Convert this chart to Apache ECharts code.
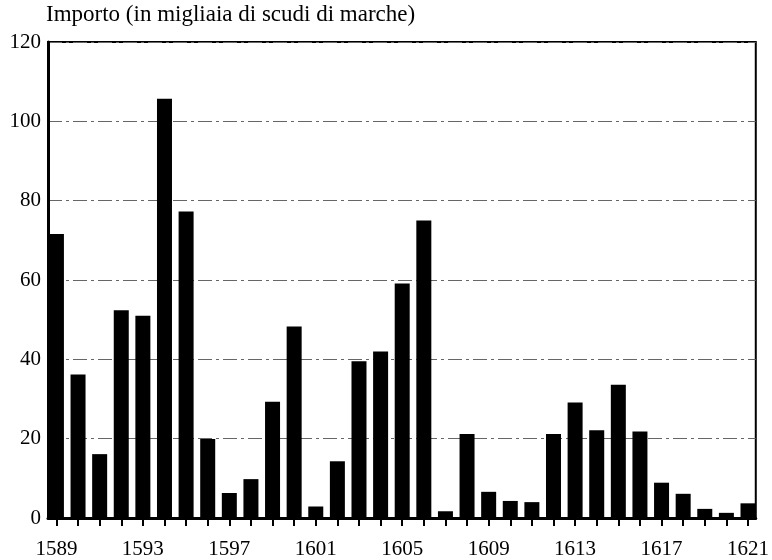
<!DOCTYPE html>
<html>
<head>
<meta charset="utf-8">
<script src="https://cdn.jsdelivr.net/npm/echarts@6/dist/echarts.min.js"></script>
<style>html,body{margin:0;padding:0;background:#fff}#c{width:772px;height:560px}</style>
</head>
<body>
<div id="c"></div>
<script>
const years = [1589,1590,1591,1592,1593,1594,1595,1596,1597,1598,1599,1600,1601,1602,1603,1604,1605,1606,1607,1608,1609,1610,1611,1612,1613,1614,1615,1616,1617,1618,1619,1620,1621];
const values = [71.6,36.2,16.1,52.4,51.0,105.7,77.3,19.9,6.3,9.8,29.3,48.3,2.9,14.3,39.5,42.0,59.1,75.0,1.7,21.2,6.6,4.3,4.0,21.2,29.1,22.1,33.6,21.8,8.9,6.1,2.3,1.3,3.7];
const xLabelYears = [1589,1593,1597,1601,1605,1609,1613,1617,1621];
const yTicks = [0,20,40,60,80,100,120];
const titleText = 'Importo (in migliaia di scudi di marche)';

const FONT = '"Liberation Serif","Times New Roman",serif';
const chart = echarts.init(document.getElementById('c'), null, {renderer:'canvas'});
chart.setOption({
  animation:false,
  backgroundColor:'#fff',
  title:{text:titleText,left:46,top:3,padding:0,textStyle:{fontFamily:FONT,fontSize:23,fontWeight:'normal',color:'#000'}},
  grid:{left:48,right:15,top:42,bottom:41,show:true,borderColor:'#000',borderWidth:2,backgroundColor:'transparent'},
  xAxis:{
    type:'value',min:1588.61,max:1621.36,
    axisLine:{show:true,onZero:false,lineStyle:{color:'#000',width:3}},
    axisTick:{show:true,customValues:years,length:8,lineStyle:{color:'#000',width:2}},
    axisLabel:{customValues:xLabelYears,margin:21,fontFamily:FONT,fontSize:21,color:'#000',formatter:v=>String(v)},
    splitLine:{show:false}
  },
  yAxis:{
    type:'value',min:yTicks[0],max:yTicks[yTicks.length-1],interval:20,
    axisLine:{show:true,lineStyle:{color:'#000',width:3}},
    axisTick:{show:false},
    axisLabel:{margin:7,fontFamily:FONT,fontSize:21,color:'#000'},
    splitLine:{show:true,lineStyle:{color:'#666',width:1,type:[14,4,3,4]}}
  },
  series:[{
    type:'bar',barWidth:15,
    data:years.map((y,i)=>[y,values[i]]),
    itemStyle:{color:'#000'},
    clip:false
  }]
});
</script>
</body>
</html>
